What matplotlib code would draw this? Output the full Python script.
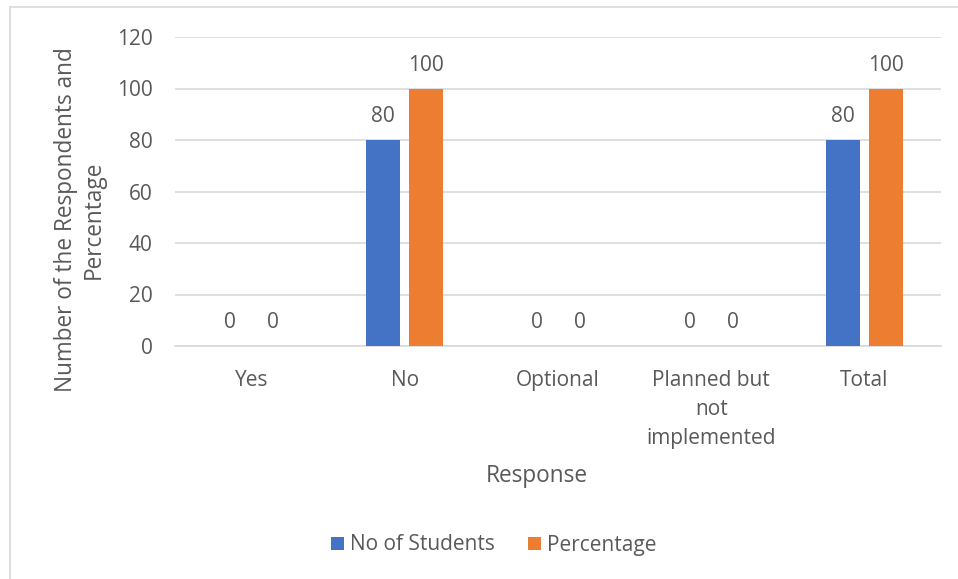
import matplotlib
matplotlib.use("Agg")
import matplotlib.pyplot as plt
import numpy as np
from matplotlib.lines import Line2D

categories = ["Yes", "No", "Optional", "Planned but\nnot\nimplemented", "Total"]
students = [0, 80, 0, 0, 80]
percentage = [0, 100, 0, 0, 100]
series_names = ["No of Students", "Percentage"]
y_ticks = [0, 20, 40, 60, 80, 100, 120]

blue = "#4472C4"
orange = "#ED7D31"
text_gray = "#595959"
grid_gray = "#D9D9D9"
fs = 15
fs_title = 16.3

plt.rcParams["font.family"] = ["Open Sans", "DejaVu Sans"]

fig = plt.figure(figsize=(9.58, 5.79), dpi=100)
W, H = 958, 579
ax = fig.add_axes([175 / W, 1 - 346 / H, (941 - 175) / W, (346 - 37) / H])

x = np.arange(len(categories))
bw = 0.222
off = 0.14
b1 = ax.bar(x - off, students, bw, color=blue, label=series_names[0], zorder=3)
b2 = ax.bar(x + off, percentage, bw, color=orange, label=series_names[1], zorder=3)

for bars, vals in ((b1, students), (b2, percentage)):
    for rect, v in zip(bars, vals):
        ax.annotate(f"{v}", (rect.get_x() + rect.get_width() / 2, v),
                    xytext=(0, 9), textcoords="offset points",
                    ha="center", va="bottom", fontsize=fs, color=text_gray)

ax.set_xlim(-0.5, len(categories) - 0.5)
ax.set_ylim(0, 120)
ax.set_yticks(y_ticks)
ax.set_xticks(x)
ax.set_xticklabels(categories, fontsize=fs, color=text_gray, linespacing=1.49)
ax.tick_params(axis="y", labelsize=fs, labelcolor=text_gray, length=0, pad=16)
ax.tick_params(axis="x", length=0, pad=17.5)
ax.grid(axis="y", color=grid_gray, linewidth=1.2, zorder=0)
for s in ("top", "right", "left"):
    ax.spines[s].set_visible(False)
ax.spines["bottom"].set_color(grid_gray)
ax.spines["bottom"].set_linewidth(1.2)

fig.text(537 / W, 1 - 476 / H, "Response", ha="center", va="center",
         fontsize=fs_title, color=text_gray)
fig.text(80 / W, 1 - 220 / H, "Number of the Respondents and\nPercentage",
         rotation=90, ha="center", va="center", fontsize=fs_title, color=text_gray,
         linespacing=1.19)

leg = fig.legend(loc="center", bbox_to_anchor=(494 / W, 1 - 545 / H), ncol=2,
                 frameon=False, fontsize=fs, handlelength=0.6, handleheight=0.6,
                 columnspacing=1.6, handletextpad=0.3)
for t in leg.get_texts():
    t.set_color(text_gray)

# chart area frame (left and top edges)
fig.add_artist(Line2D([9.5 / W, 9.5 / W], [0, 1 - 7 / H], color="#D9D9D9", linewidth=1.2))
fig.add_artist(Line2D([9.5 / W, 1], [1 - 7 / H, 1 - 7 / H], color="#D9D9D9", linewidth=1.2))

fig.savefig("out.png", dpi=100, facecolor="white")
